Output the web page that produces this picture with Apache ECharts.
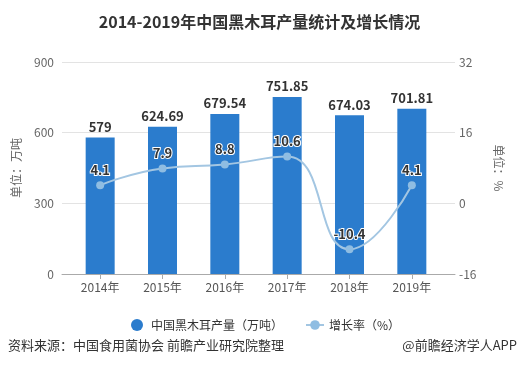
<!DOCTYPE html>
<html>
<head>
<meta charset="utf-8">
<script src="https://cdn.jsdelivr.net/npm/echarts@6/dist/echarts.min.js"></script>
<style>
  html, body { margin: 0; padding: 0; background: #fff; }
  #chart { width: 519px; height: 377px; }
</style>
</head>
<body>
<div id="chart"></div>
<script>
// 年份
const years = ["2014年", "2015年", "2016年", "2017年", "2018年", "2019年"];
// 产量（万吨）
const output = [579, 624.69, 679.54, 751.85, 674.03, 701.81];
// 增长率（%）
const growth = [4.1, 7.9, 8.8, 10.6, -10.4, 4.1];

const font = "'Noto Sans CJK SC', sans-serif";

const chart = echarts.init(document.getElementById("chart"));
chart.setOption({
  textStyle: { fontFamily: font },
  title: {
    text: "2014-2019年中国黑木耳产量统计及增长情况",
    left: "center",
    top: 9,
    textStyle: { fontSize: 16, fontWeight: "bold", color: "#333" }
  },
  legend: {
    top: 314,
    left: 126,
    itemGap: 22,
    itemWidth: 18,
    itemHeight: 12,
    textStyle: { fontSize: 12, color: "#333" },
    data: [
      { name: "中国黑木耳产量（万吨）", icon: "circle" },
      { name: "增长率（%）" }
    ]
  },
  // grid 0 holds gridlines and axis labels, grid 1 holds the marks
  grid: [
    { left: 62, right: 64, top: 62, bottom: 103 },
    { left: 69, right: 76, top: 62, bottom: 103 }
  ],
  xAxis: [
    {
      type: "value",
      gridIndex: 0,
      min: 0,
      max: 1,
      axisLine: { show: true, lineStyle: { color: "#aaa" } },
      axisTick: { show: false },
      axisLabel: { show: false },
      splitLine: { show: false }
    },
    {
      type: "category",
      gridIndex: 1,
      data: years,
      axisLine: { show: false },
      axisTick: { show: true, alignWithLabel: true, length: 5, lineStyle: { color: "#aaa" } },
      axisLabel: { color: "#555", fontSize: 12, margin: 7 }
    }
  ],
  yAxis: [
    {
      type: "value",
      gridIndex: 0,
      position: "left",
      min: 0,
      max: 900,
      interval: 300,
      name: "单位：万吨",
      nameLocation: "middle",
      nameGap: 40,
      nameRotate: 90,
      nameTextStyle: { color: "#666", fontSize: 12 },
      axisLine: { show: false },
      axisTick: { show: false },
      axisLabel: { color: "#666", fontSize: 12, margin: 8 },
      splitLine: { lineStyle: { color: "#e3e3e3" } }
    },
    {
      type: "value",
      gridIndex: 0,
      position: "right",
      min: -16,
      max: 32,
      interval: 16,
      name: "单位：%",
      nameLocation: "middle",
      nameGap: 38,
      nameRotate: -90,
      nameTextStyle: { color: "#666", fontSize: 12 },
      axisLine: { show: false },
      axisTick: { show: false },
      axisLabel: { color: "#666", fontSize: 12, margin: 4 },
      splitLine: { show: false }
    },
    { type: "value", gridIndex: 1, min: 0, max: 900, show: false, splitLine: { show: false } },
    { type: "value", gridIndex: 1, min: -16, max: 32, show: false, splitLine: { show: false } }
  ],
  series: [
    {
      name: "中国黑木耳产量（万吨）",
      type: "bar",
      xAxisIndex: 1,
      yAxisIndex: 2,
      data: output,
      barWidth: 29,
      itemStyle: { color: "#2b7ccd" },
      label: {
        show: true,
        position: "top",
        distance: 4,
        color: "#333",
        fontSize: 13,
        fontWeight: "bold"
      }
    },
    {
      name: "增长率（%）",
      type: "line",
      xAxisIndex: 1,
      yAxisIndex: 3,
      data: growth,
      smooth: true,
      symbol: "circle",
      symbolSize: 8,
      lineStyle: { color: "#a3c6e2", width: 2 },
      itemStyle: { color: "#8fbde2" },
      label: {
        show: true,
        position: "top",
        distance: 5,
        color: "#333",
        fontSize: 13,
        fontWeight: "bold",
        textBorderColor: "#fff",
        textBorderWidth: 2
      }
    }
  ],
  graphic: [
    {
      type: "text",
      left: 8,
      top: 339,
      style: { text: "资料来源：中国食用菌协会 前瞻产业研究院整理", fill: "#333", fontSize: 13, fontFamily: font }
    },
    {
      type: "text",
      right: 2,
      top: 339,
      style: { text: "@前瞻经济学人APP", fill: "#333", fontSize: 13, fontFamily: font }
    }
  ]
});
</script>
</body>
</html>
